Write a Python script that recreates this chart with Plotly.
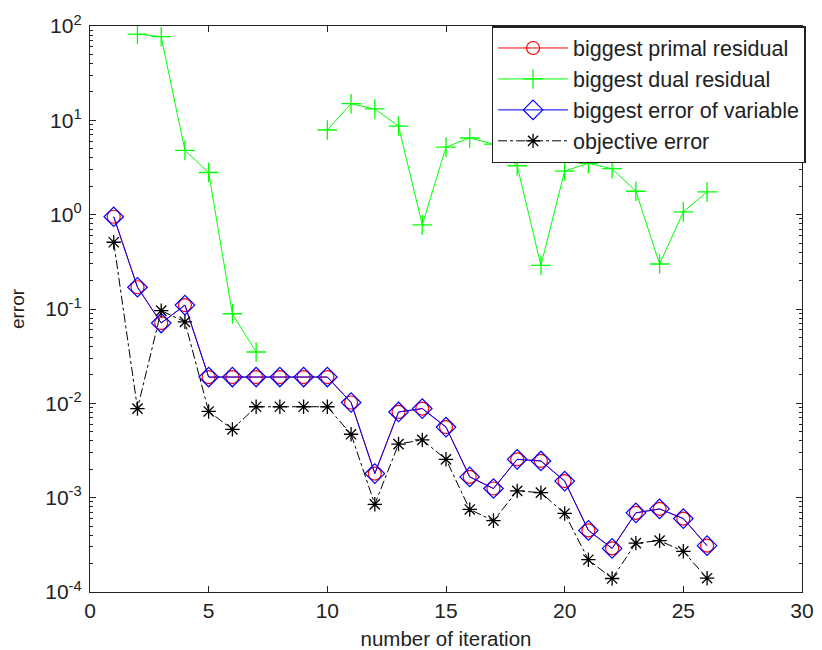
import plotly.graph_objects as go

iterations = list(range(1, 27))

primal_residual = [0.95, 0.17, 0.071, 0.11, 0.019, 0.019, 0.019, 0.019, 0.019, 0.019,
                   0.0102, 0.0018, 0.0081, 0.0088, 0.0056, 0.00166, 0.00125, 0.00255, 0.00245, 0.00150,
                   0.00045, 0.00029, 0.00069, 0.00076, 0.00060, 0.00031]

dual_residual = [None, 82, 77, 4.8, 2.8, 0.089, 0.035, None, None, 7.9,
                 15, 13.2, 8.7, 0.78, 5.2, 6.5, 5.6, 3.3, 0.29, 2.9,
                 3.5, 3.07, 1.77, 0.30, 1.07, 1.74]

variable_error = [0.95, 0.17, 0.071, 0.11, 0.019, 0.019, 0.019, 0.019, 0.019, 0.019,
                  0.0102, 0.0018, 0.0081, 0.0088, 0.0056, 0.00166, 0.00125, 0.00255, 0.00245, 0.00150,
                  0.00045, 0.00029, 0.00069, 0.00076, 0.00060, 0.00031]

objective_error = [0.51, 0.0088, 0.096, 0.073, 0.0082, 0.0053, 0.0092, 0.0092, 0.0092, 0.0092,
                   0.0047, 0.00085, 0.0037, 0.0041, 0.00255, 0.00075, 0.00057, 0.00118, 0.00113, 0.00068,
                   0.00022, 0.000139, 0.00033, 0.00035, 0.00027, 0.00014]

y_exponents = [-4, -3, -2, -1, 0, 1, 2]
x_ticks = [0, 5, 10, 15, 20, 25, 30]

font_family = "Liberation Sans, Arial, sans-serif"

fig = go.Figure()
fig.add_trace(go.Scatter(x=iterations, y=primal_residual, name="biggest primal residual",
                         mode="lines+markers", line=dict(color="#ff0000", width=1),
                         marker=dict(symbol="circle-open", size=13, color="#ff0000", line=dict(width=1.2))))
fig.add_trace(go.Scatter(x=iterations, y=dual_residual, name="biggest dual residual",
                         mode="lines+markers", connectgaps=False, line=dict(color="#00ff00", width=1),
                         marker=dict(symbol="cross-thin-open", size=14, color="#00ff00", line=dict(width=1.3, color="#00ff00"))))
fig.add_trace(go.Scatter(x=iterations, y=variable_error, name="biggest error of variable",
                         mode="lines+markers", line=dict(color="#0000ff", width=1),
                         marker=dict(symbol="diamond-open", size=15, color="#0000ff", line=dict(width=1.2))))
fig.add_trace(go.Scatter(x=iterations, y=objective_error, name="objective error",
                         mode="lines+markers", line=dict(color="#000000", width=1, dash="dashdot"),
                         marker=dict(symbol="asterisk-open", size=12, color="#000000", line=dict(width=1.3, color="#000000"))))

fig.update_layout(
    width=822, height=650,
    margin=dict(l=90, r=20, t=26, b=58),
    paper_bgcolor="white", plot_bgcolor="white",
    font=dict(family=font_family, size=21, color="#222222"),
    showlegend=True,
    legend=dict(x=1.005, y=1.0, xanchor="right", yanchor="top",
                bgcolor="white", bordercolor="#222222", borderwidth=1.5,
                font=dict(size=21.5, family=font_family, color="#222222"),
                tracegroupgap=0, itemwidth=70),
)

fig.update_xaxes(range=[0, 30], tickvals=x_ticks, ticktext=[str(v) for v in x_ticks],
                 ticks="inside", ticklen=6, tickcolor="#222222", automargin=False,
                 showline=True, linecolor="#222222", linewidth=1.3, mirror="ticks",
                 showgrid=False, zeroline=False,
                 title=dict(text="number of iteration", font=dict(size=20.5)),
                 tickfont=dict(size=21))

fig.update_yaxes(type="log", range=[-4, 2],
                 tickvals=[10 ** e for e in y_exponents],
                 ticktext=["10<sup>%d</sup>" % e for e in y_exponents],
                 ticks="inside", ticklen=6, tickcolor="#222222", automargin=False,
                 minor=dict(ticks="inside", ticklen=3, tickcolor="#222222", dtick="D1", showgrid=False),
                 showline=True, linecolor="#222222", linewidth=1.3, mirror="ticks",
                 showgrid=False, zeroline=False, ticklabelstandoff=3,
                 title=dict(text="error", font=dict(size=19)),
                 tickfont=dict(size=21))

fig.write_html("out.html")
